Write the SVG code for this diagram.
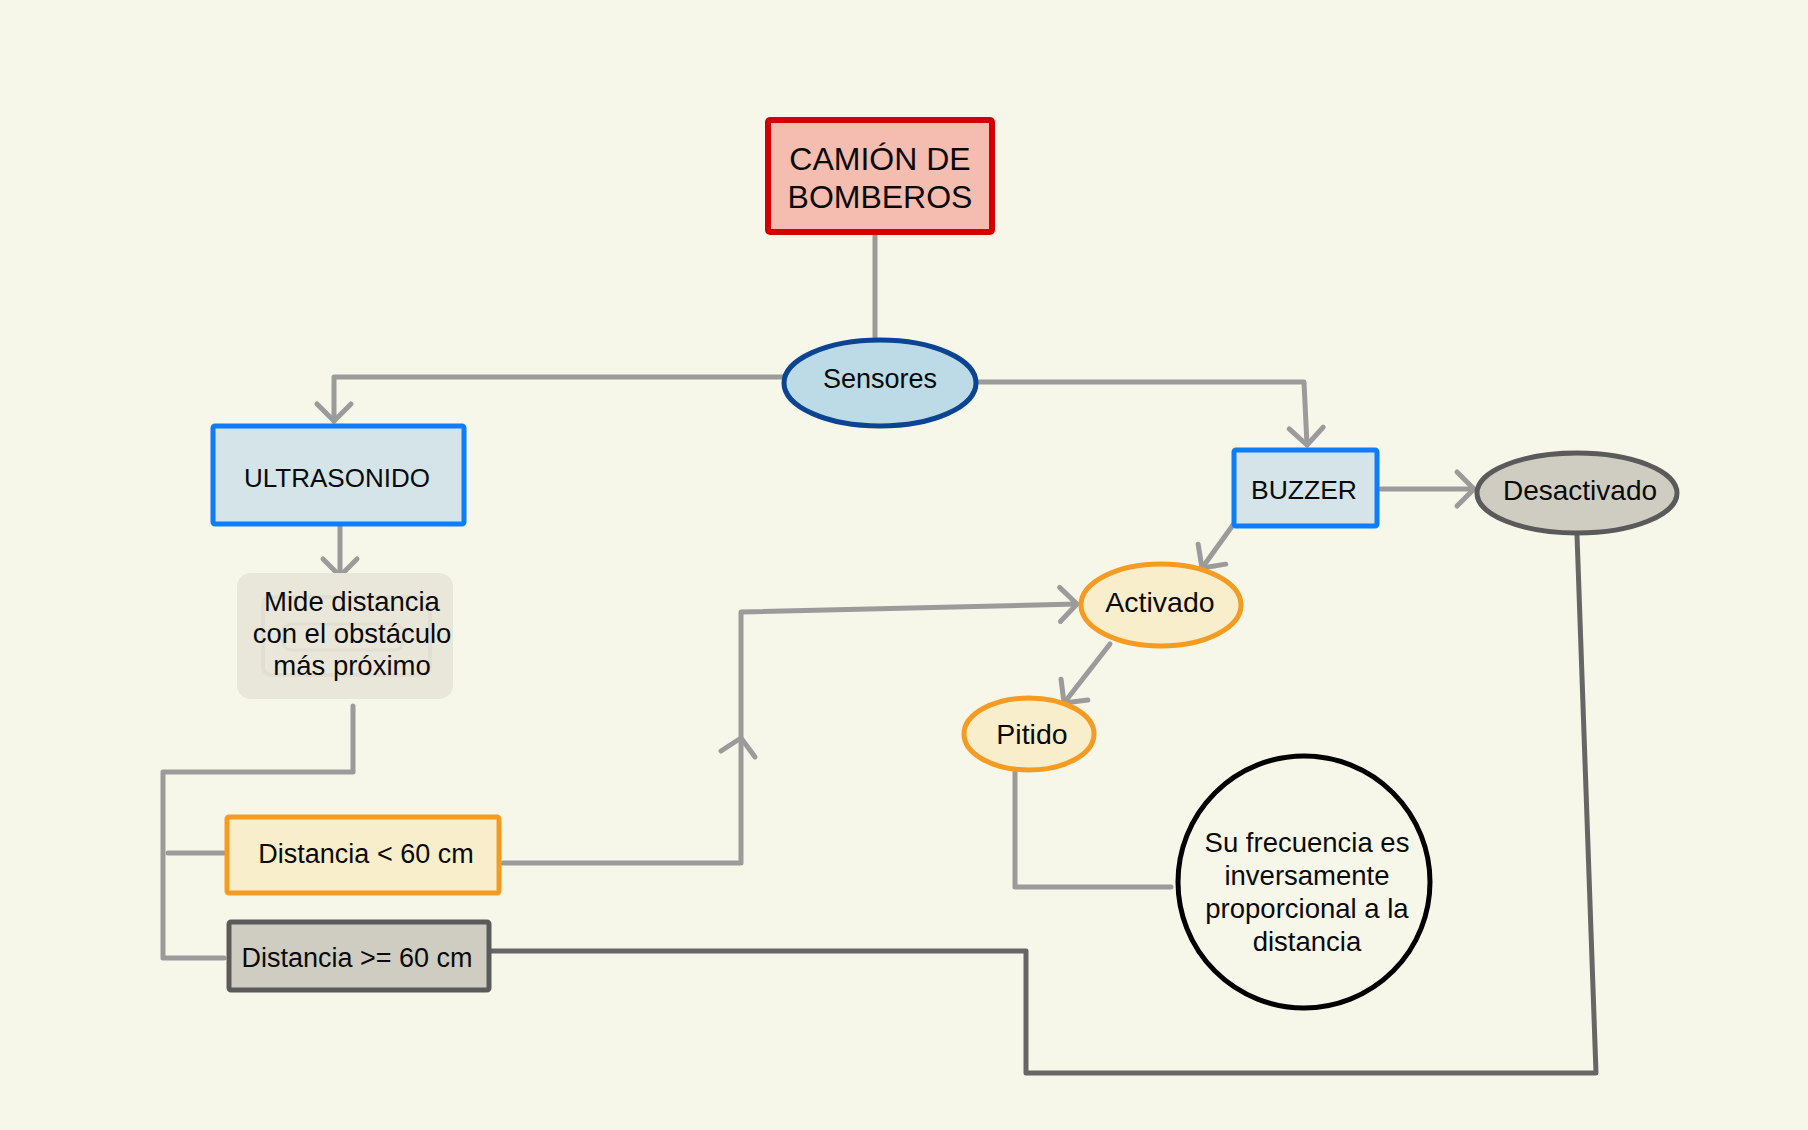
<svg xmlns="http://www.w3.org/2000/svg" width="1808" height="1130" viewBox="0 0 1808 1130">
<style>
.conn{fill:none;stroke:#9b9b9b;stroke-width:5;stroke-linecap:round;stroke-linejoin:round}
.dark{fill:none;stroke:#666666;stroke-width:5;stroke-linecap:round;stroke-linejoin:round}
text{font-family:"Liberation Sans",Arial,sans-serif;fill:#0a0a0a;text-anchor:middle}
.blue{fill:#d5e4e8;stroke:#0d7dfc;stroke-width:5}
.orange{fill:#f8eecb;stroke:#f59b22;stroke-width:5}
.grey{fill:#cfcdc2;stroke:#5a5a5a;stroke-width:5}
</style>
<defs>
<marker id="arr" markerUnits="userSpaceOnUse" markerWidth="44" markerHeight="44" viewBox="-22 -22 44 44" refX="0" refY="0" orient="auto" overflow="visible">
<path d="M-17,-17 L0,0 L-17,17" fill="none" stroke="#9b9b9b" stroke-width="5" stroke-linecap="round" stroke-linejoin="round"/>
</marker>
</defs>
<rect width="1808" height="1130" fill="#f6f6e9"/>
<g id="connectors">
<path class="conn" d="M875,235 L875,340"/>
<path class="conn" d="M783,377 L334,377 L334,421" marker-end="url(#arr)"/>
<path class="conn" d="M978,382 L1304,382 L1307,445" marker-end="url(#arr)"/>
<path class="conn" d="M340,527 L340,576" marker-end="url(#arr)"/>
<path class="conn" d="M353,706 L353,772 L163,772 L163,958 L224,958"/>
<path class="conn" d="M168,853 L224,853"/>
<path class="conn" d="M503,863 L741,863 L741,612 L1077,604" marker-end="url(#arr)"/>
<path class="conn" d="M721,751 L741,738 L755,757"/>
<path class="conn" d="M1381,489 L1474,489" marker-end="url(#arr)"/>
<path class="conn" d="M1233,525 L1202,568" marker-end="url(#arr)"/>
<path class="conn" d="M1110,644 L1064,703" marker-end="url(#arr)"/>
<path class="conn" d="M1015,771 L1015,887 L1171,887"/>
<path class="dark" d="M1577,535 L1596,1073 L1026,1073 L1026,951 L491,951"/>
</g>
<g id="camion">
<rect x="768" y="120" width="224" height="112" rx="2" fill="#f5bcb0" stroke="#d40000" stroke-width="6"/>
<text x="880" y="170" font-size="32">CAMIÓN DE</text>
<text x="880" y="208" font-size="32">BOMBEROS</text>
</g>
<g id="sensores">
<ellipse cx="880" cy="383" rx="96" ry="43" fill="#bddbe6" stroke="#0b4493" stroke-width="5"/>
<text x="880" y="388" font-size="27">Sensores</text>
</g>
<g id="ultrasonido">
<rect class="blue" x="213" y="426" width="251" height="98" rx="2"/>
<text x="337" y="487" font-size="26">ULTRASONIDO</text>
</g>
<g id="mide">
<rect x="237" y="573" width="216" height="126" rx="14" fill="#e9e6da"/>
<rect x="263" y="597" width="167" height="78" rx="8" fill="none" stroke="#e2dfd2" stroke-width="4"/>
<rect x="283" y="624" width="120" height="26" rx="8" fill="none" stroke="#e2dfd2" stroke-width="3"/>
<text x="352" y="611" font-size="27.5">Mide distancia</text>
<text x="352" y="643" font-size="27.5">con el obstáculo</text>
<text x="352" y="675" font-size="27.5">más próximo</text>
</g>
<g id="dist-menor">
<rect class="orange" x="227" y="817" width="272" height="76" rx="2" stroke="#f6a02a"/>
<text x="366" y="863" font-size="27">Distancia &lt; 60 cm</text>
</g>
<g id="dist-mayor">
<rect class="grey" x="229" y="922" width="260" height="68" rx="2"/>
<text x="357" y="967" font-size="27">Distancia &gt;= 60 cm</text>
</g>
<g id="buzzer">
<rect class="blue" x="1234" y="450" width="143" height="76" rx="2"/>
<text x="1304" y="499" font-size="26.5">BUZZER</text>
</g>
<g id="desactivado">
<ellipse class="grey" cx="1577" cy="493" rx="100" ry="40"/>
<text x="1580" y="500" font-size="28">Desactivado</text>
</g>
<g id="activado">
<ellipse class="orange" cx="1161" cy="605" rx="80" ry="41"/>
<text x="1160" y="612" font-size="28.5">Activado</text>
</g>
<g id="pitido">
<ellipse class="orange" cx="1029" cy="734" rx="65" ry="36"/>
<text x="1032" y="744" font-size="28.5">Pitido</text>
</g>
<g id="frecuencia">
<circle cx="1304" cy="882" r="126" fill="none" stroke="#000" stroke-width="5"/>
<text x="1307" y="852" font-size="27.5">Su frecuencia es</text>
<text x="1307" y="885" font-size="27.5">inversamente</text>
<text x="1307" y="918" font-size="27.5">proporcional a la</text>
<text x="1307" y="951" font-size="27.5">distancia</text>
</g>
</svg>
